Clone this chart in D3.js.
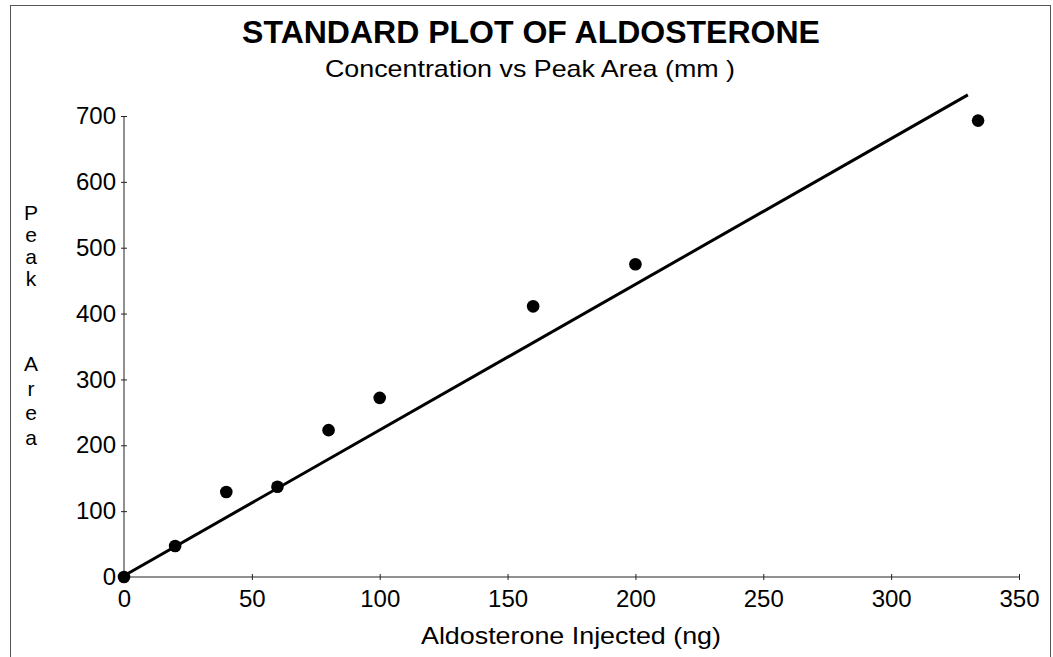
<!DOCTYPE html>
<html>
<head>
<meta charset="utf-8">
<script src="https://cdn.jsdelivr.net/npm/d3@7"></script>
<style>
  html, body { margin: 0; padding: 0; background: #fff; }
  svg { display: block; }
  text { font-family: "Liberation Sans", Arial, sans-serif; fill: #000; }
</style>
</head>
<body>
<svg id="chart" width="1053" height="657"></svg>
<script>
// Aldosterone standard curve: amount injected (ng) vs detector peak area (mm)
const injectedNg = [0, 20, 40, 60, 80, 100, 160, 200, 334];
const peakArea   = [0, 47, 129, 137, 223, 272, 411, 475, 693];

// Least-squares standard line, drawn between these two end points
const fitX = [0, 330];
const fitY = [2, 732];

const xTicks = [0, 50, 100, 150, 200, 250, 300, 350];
const yTicks = [0, 100, 200, 300, 400, 500, 600, 700];

const titleText = "STANDARD PLOT OF ALDOSTERONE";
const subtitleText = "Concentration vs Peak Area (mm )";
const xAxisTitle = "Aldosterone Injected (ng)";
const yAxisWords = ["Peak", "Area"];

const svg = d3.select("#chart");

const x = d3.scaleLinear().domain([0, 350]).range([124, 1019]);
const y = d3.scaleLinear().domain([0, 700]).range([577, 116]);

// outer frame
svg.append("rect")
  .attr("x", 10.5).attr("y", 5.5)
  .attr("width", 1040).attr("height", 680)
  .attr("fill", "none")
  .attr("stroke", "#555")
  .attr("stroke-width", 1);

// titles
svg.append("text")
  .attr("x", 531).attr("y", 43)
  .attr("text-anchor", "middle")
  .attr("font-size", 32).attr("font-weight", "bold")
  .text(titleText);

svg.append("text")
  .attr("x", 530).attr("y", 77)
  .attr("text-anchor", "middle")
  .attr("font-size", 24)
  .attr("textLength", 410).attr("lengthAdjust", "spacingAndGlyphs")
  .text(subtitleText);

// axes
const yAxis = svg.append("g")
  .attr("transform", `translate(${x(0)},0)`)
  .call(d3.axisLeft(y).tickValues(yTicks).tickSize(3).tickPadding(5).tickFormat(d3.format("d")));
const xAxis = svg.append("g")
  .attr("transform", `translate(0,${y(0)})`)
  .call(d3.axisBottom(x).tickValues(xTicks).tickSize(3).tickPadding(10).tickFormat(d3.format("d")));

[yAxis, xAxis].forEach(g => {
  g.select(".domain").attr("stroke", "#222").attr("stroke-width", 1);
  g.selectAll(".tick line").attr("stroke", "#222");
  g.selectAll(".tick text")
    .attr("font-family", "'Liberation Sans', Arial, sans-serif")
    .attr("font-size", 24).attr("fill", "#000");
});
// ticks cross the axis line
yAxis.selectAll(".tick line").attr("x1", -3).attr("x2", 3);
xAxis.selectAll(".tick line").attr("y1", -3).attr("y2", 3);
yAxis.select(".domain").attr("d", `M0,${y(700)}V${y(0)}`);
xAxis.select(".domain").attr("d", `M${x(0)},0H${x(350)}`);

// axis titles
svg.append("text")
  .attr("x", 571).attr("y", 644)
  .attr("text-anchor", "middle")
  .attr("font-size", 24)
  .attr("textLength", 300).attr("lengthAdjust", "spacingAndGlyphs")
  .text(xAxisTitle);

// vertical y-axis title: one letter per line, a gap between the two words
const wordTop = [220, 371];
const wordPitch = [22, 24.5];
const yLetters = yAxisWords.flatMap((w, wi) =>
  Array.from(w).map((ch, ci) => ({ ch, y: wordTop[wi] + ci * wordPitch[wi] })));
svg.append("g").selectAll("text")
  .data(yLetters)
  .join("text")
  .attr("x", 31)
  .attr("y", d => d.y)
  .attr("text-anchor", "middle")
  .attr("font-size", 21)
  .text(d => d.ch);

// standard line
svg.append("line")
  .attr("x1", x(fitX[0])).attr("y1", y(fitY[0]))
  .attr("x2", x(fitX[1])).attr("y2", y(fitY[1]))
  .attr("stroke", "#000")
  .attr("stroke-width", 3);

// measured points
svg.append("g").selectAll("circle")
  .data(injectedNg.map((d, i) => [d, peakArea[i]]))
  .join("circle")
  .attr("cx", d => x(d[0]))
  .attr("cy", d => y(d[1]))
  .attr("r", 6.3)
  .attr("fill", "#000");
</script>
</body>
</html>
